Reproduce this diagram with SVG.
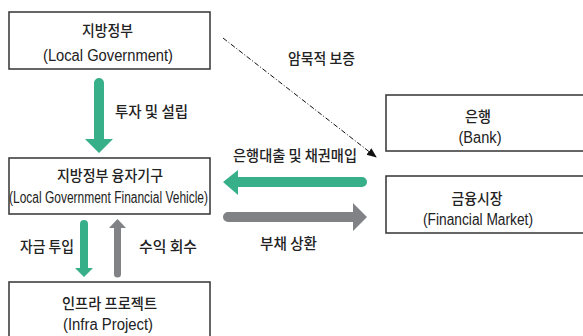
<svg xmlns="http://www.w3.org/2000/svg" width="583" height="336" viewBox="0 0 583 336">
<defs>
<style>
.box{fill:#fff;stroke:#333;stroke-width:1.5}
.ko{font-family:"Noto Sans CJK KR","Noto Sans",sans-serif;font-size:15px;fill:#222;text-anchor:middle;font-weight:500}
.en{font-family:"Liberation Sans","DejaVu Sans",sans-serif;font-size:16px;fill:#222;text-anchor:middle}
.lbl{font-family:"Noto Sans CJK KR","Noto Sans",sans-serif;font-size:15px;fill:#222;text-anchor:middle;font-weight:500}
.green{fill:#37b08a}
.gray{fill:#808285}
</style>
<marker id="ah" markerWidth="10" markerHeight="10" refX="9" refY="5" orient="auto" markerUnits="userSpaceOnUse">
<path d="M0,1 L10,5 L0,9 Z" fill="#111"/>
</marker>
</defs>
<rect width="583" height="336" fill="#fff"/>
<g id="local-gov">
<rect class="box" x="9" y="12" width="201" height="57"/>
<text class="ko" x="107.5" y="36" textLength="51" lengthAdjust="spacingAndGlyphs">지방정부</text>
<text class="en" x="108" y="61" textLength="130" lengthAdjust="spacingAndGlyphs">(Local Government)</text>
</g>
<g id="lgfv">
<rect class="box" x="9" y="158" width="201" height="56"/>
<text class="ko" x="110" y="181" textLength="106" lengthAdjust="spacingAndGlyphs">지방정부 융자기구</text>
<text class="en" x="108.5" y="203" textLength="199" lengthAdjust="spacingAndGlyphs">(Local Government Financial Vehicle)</text>
</g>
<g id="infra">
<rect class="box" x="9" y="282" width="201" height="60"/>
<text class="ko" x="109.5" y="309" textLength="95" lengthAdjust="spacingAndGlyphs">인프라 프로젝트</text>
<text class="en" x="108" y="330" textLength="90" lengthAdjust="spacingAndGlyphs">(Infra Project)</text>
</g>
<g id="bank">
<rect class="box" x="386" y="95" width="210" height="56"/>
<text class="ko" x="478" y="122" textLength="26" lengthAdjust="spacingAndGlyphs">은행</text>
<text class="en" x="480" y="143" textLength="43" lengthAdjust="spacingAndGlyphs">(Bank)</text>
</g>
<g id="market">
<rect class="box" x="386" y="176" width="210" height="57"/>
<text class="ko" x="477" y="204" textLength="51" lengthAdjust="spacingAndGlyphs">금융시장</text>
<text class="en" x="478" y="225" textLength="110" lengthAdjust="spacingAndGlyphs">(Financial Market)</text>
</g>
<g id="connectors">
<path class="green" d="M94,83 a5,5 0 0 1 10,0 L104,139 L113,139 L99,153 L85,139 L94,139 Z"/>
<path class="green" d="M223,182 L238,170 L238,177 L362,177 a5,5 0 0 1 0,10 L238,187 L238,195 Z"/>
<path class="gray" d="M367,217 L353,203 L353,212 L228,212 a5,5 0 0 0 0,10 L353,222 L353,231 Z"/>
<path class="green" d="M80,224 a4,4 0 0 1 8,0 L88,268 L93,268 L84,277 L75,268 L80,268 Z"/>
<path class="gray" d="M117.5,219 L126,228 L121,228 L121,274 a3.5,3.5 0 0 1 -7,0 L114,228 L109,228 Z"/>
<line x1="223" y1="38" x2="376" y2="157" stroke="#111" stroke-width="1" stroke-dasharray="5,2,1,2" marker-end="url(#ah)"/>
<text class="lbl" x="321.5" y="64" textLength="67" lengthAdjust="spacingAndGlyphs">암묵적 보증</text>
<text class="lbl" x="151.5" y="117" textLength="73" lengthAdjust="spacingAndGlyphs">투자 및 설립</text>
<text class="lbl" x="295" y="161" textLength="124" lengthAdjust="spacingAndGlyphs">은행대출 및 채권매입</text>
<text class="lbl" x="47" y="252" textLength="54" lengthAdjust="spacingAndGlyphs">자금 투입</text>
<text class="lbl" x="168" y="252" textLength="58" lengthAdjust="spacingAndGlyphs">수익 회수</text>
<text class="lbl" x="288.5" y="249" textLength="57" lengthAdjust="spacingAndGlyphs">부채 상환</text>
</g>
</svg>
